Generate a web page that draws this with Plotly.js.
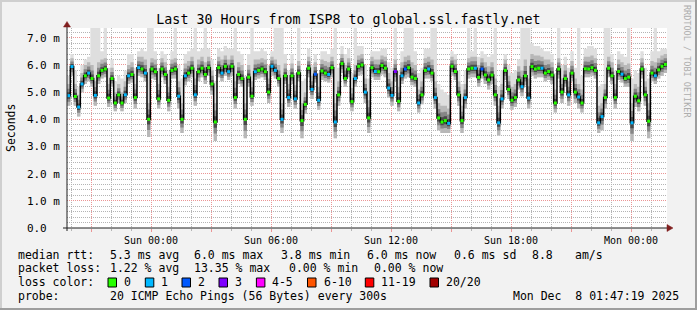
<!DOCTYPE html>
<html><head><meta charset="utf-8">
<script src="https://cdn.plot.ly/plotly-3.0.1.min.js"></script>
<style>html,body{margin:0;padding:0;background:#f2f2f2}#chart{width:697px;height:310px}</style>
</head><body><div id="chart"></div>
<script>
// ---- data ----
const startTime = '2025-12-06T19:48:00Z';
const stepMinutes = 10;
const rangeStart = '2025-12-06 19:48:00';
const rangeEnd = '2025-12-08 01:48:00';

const median = [
 4.87,5.94,4.84,4.45,5.3,5.6,5.7,5.5,4.88,5.6,
 5.8,5.85,4.78,5.5,4.6,4.9,4.6,4.9,5.6,5.65,
 4.8,5.9,5.85,5.7,4.0,5.85,5.75,4.75,5.85,5.65,
 4.7,5.8,5.85,4.85,4.0,5.6,5.7,5.88,4.9,5.75,
 5.88,5.65,5.9,5.3,3.9,5.9,5.7,5.95,5.75,5.95,
 4.8,5.65,5.5,4.0,5.55,4.85,5.75,5.8,5.85,5.75,
 5.0,5.95,5.8,5.5,4.0,5.6,4.8,5.6,4.75,5.7,
 3.95,4.55,5.88,5.1,5.66,4.7,5.78,5.7,5.65,5.9,
 3.9,4.9,6.05,5.5,5.85,4.65,5.5,5.95,6.0,5.0,
 4.05,5.9,5.76,5.75,5.98,5.88,5.15,4.88,5.76,4.66,
 5.6,5.85,5.9,5.55,5.5,4.6,4.9,5.8,5.85,5.7,
 4.8,4.05,3.9,3.95,3.85,5.95,5.76,4.9,3.95,4.8,
 5.85,5.88,5.88,5.54,5.85,5.63,5.45,5.63,4.9,3.87,
 4.75,5.8,5.1,4.7,4.8,5.45,5.2,5.6,4.78,5.94,
 5.85,5.88,5.88,5.7,5.76,5.63,4.6,5.85,5.0,5.5,
 4.9,5.7,5.0,4.82,4.6,5.86,5.85,5.9,5.8,3.87,
 4.1,4.8,5.88,5.6,4.8,5.76,5.66,5.5,5.55,3.87,
 4.85,4.68,5.85,4.9,3.93,5.7,5.6,5.82,5.95,6.02];

const smokeHigh = [
 5.3,6.25,5.3,4.9,5.7,6.0,6.1,6.0,5.4,6.1,
 6.2,6.25,5.3,5.9,5.0,5.3,5.0,5.4,6.0,6.1,
 5.3,6.3,6.3,6.2,4.6,6.25,6.2,5.3,6.25,6.1,
 5.2,6.2,6.25,5.4,4.6,6.05,6.15,6.3,5.5,6.2,
 6.3,6.1,6.3,5.8,4.6,6.3,6.2,6.35,6.2,6.35,
 5.4,6.1,6.0,4.6,6.0,5.4,6.2,6.2,6.25,6.2,
 5.5,6.3,6.2,6.0,4.6,6.05,5.3,6.05,5.25,6.15,
 4.6,5.0,6.3,5.6,6.1,5.2,6.2,6.15,6.1,6.3,
 4.6,5.4,6.4,6.0,6.25,5.15,6.0,6.35,6.4,5.5,
 4.7,6.3,6.2,6.2,6.35,6.3,5.7,5.4,6.2,5.2,
 6.1,6.3,6.35,6.1,6.0,5.1,5.4,6.25,6.3,6.2,
 5.4,4.6,4.5,4.5,4.4,6.3,6.2,5.4,4.5,5.3,
 6.25,6.3,6.3,6.0,6.25,6.1,5.95,6.1,5.5,4.5,
 5.3,6.2,5.6,5.2,5.3,5.95,5.8,6.2,5.5,6.4,
 6.35,6.35,6.3,6.2,6.2,6.1,5.1,6.25,5.5,6.0,
 5.4,6.15,5.5,5.3,5.1,6.3,6.3,6.35,6.25,4.5,
 4.6,5.3,6.3,6.1,5.3,6.2,6.1,6.0,6.05,4.6,
 5.3,5.2,6.25,5.4,4.6,6.15,6.1,6.25,6.35,6.4];

const smokeLow = [
 4.5,5.6,4.5,4.1,5.0,5.3,5.4,5.2,4.5,5.3,
 5.5,5.55,4.45,5.2,4.3,4.6,4.3,4.6,5.3,5.35,
 4.4,5.6,5.55,5.4,3.35,5.5,5.45,4.4,5.55,5.3,
 4.3,5.5,5.5,4.4,3.5,5.25,5.4,5.55,4.5,5.4,
 5.55,5.3,5.6,4.9,3.2,5.55,5.4,5.6,5.45,5.6,
 4.4,5.3,5.2,3.3,5.2,4.5,5.45,5.5,5.55,5.45,
 4.6,5.6,5.5,5.2,3.5,5.3,4.45,5.3,4.4,5.4,
 3.3,4.2,5.55,4.75,5.35,4.35,5.45,5.4,5.35,5.55,
 3.3,4.5,5.7,5.2,5.55,4.3,5.2,5.6,5.65,4.6,
 3.5,5.55,5.45,5.45,5.65,5.55,4.8,4.5,5.4,4.3,
 5.3,5.5,5.55,5.25,5.2,4.25,4.55,5.5,5.5,5.4,
 4.4,3.6,3.5,3.5,3.5,5.6,5.45,4.5,3.5,4.4,
 5.5,5.55,5.55,5.2,5.5,5.3,5.1,5.3,4.5,3.4,
 4.4,5.45,4.75,4.35,4.45,5.1,4.85,5.25,4.4,5.6,
 5.5,5.55,5.55,5.4,5.45,5.3,4.25,5.5,4.6,5.2,
 4.5,5.4,4.6,4.4,4.25,5.55,5.55,5.6,5.5,3.5,
 3.6,4.4,5.55,5.3,4.4,5.45,5.35,5.2,5.2,3.2,
 4.45,4.3,5.5,4.5,3.3,5.4,5.3,5.5,5.6,5.7];

const pingMax = [
 5.6,6.4,5.8,5.2,6.0,6.2,6.3,7.4,7.4,7.4,
 6.5,7.4,5.9,6.2,5.4,5.6,5.5,5.8,6.4,6.4,
 5.9,6.5,6.6,6.5,7.4,7.4,6.5,5.9,6.5,6.4,
 5.8,6.5,7.4,6.0,5.5,6.4,6.5,6.6,7.4,6.5,
 6.6,7.4,6.6,6.2,5.4,6.6,6.5,6.7,6.6,6.6,
 7.4,6.5,6.4,5.6,6.4,7.4,6.5,6.5,6.6,6.5,
 6.0,6.5,7.4,7.4,7.4,6.4,5.8,6.4,5.7,7.4,
 5.4,5.5,6.6,6.0,6.4,5.7,6.5,6.5,6.4,6.6,
 7.4,5.9,6.7,6.4,6.6,5.7,7.4,6.7,6.7,6.0,
 5.5,6.5,6.5,6.5,6.6,6.6,6.1,5.9,7.4,5.8,
 6.5,7.4,7.4,7.4,6.5,5.7,5.9,6.6,6.6,7.4,
 7.4,5.3,5.1,5.0,4.9,6.5,6.4,5.8,5.3,5.8,
 7.4,6.5,7.4,6.3,6.5,6.4,6.3,6.4,7.4,5.2,
 5.8,6.4,6.0,5.7,5.8,6.2,7.4,7.4,7.4,6.8,
 6.7,6.7,6.6,6.5,6.5,6.4,5.7,7.4,6.0,6.3,
 5.9,6.5,5.9,7.4,5.6,6.6,6.7,6.7,6.6,5.2,
 5.3,7.4,7.4,6.4,5.8,6.5,6.4,6.3,7.4,5.5,
 5.8,5.7,6.5,5.9,5.5,6.5,7.4,6.5,6.6,6.6];

const lostPings = [
 1,1,0,1,1,0,1,0,1,0,
 0,0,0,0,0,0,0,1,1,0,
 0,1,0,1,0,0,0,0,0,0,
 0,0,0,1,0,1,0,0,1,0,
 0,0,0,0,0,0,1,0,1,0,
 0,0,0,0,0,0,1,0,0,0,
 0,1,1,0,1,0,1,0,1,0,
 0,0,0,1,2,1,0,0,1,0,
 1,0,0,0,0,0,1,0,0,1,
 0,0,1,0,0,0,1,1,3,0,
 1,2,0,0,0,1,0,0,1,0,
 1,0,0,0,1,0,0,0,0,1,
 0,0,1,0,2,0,0,0,0,1,
 1,0,0,0,0,0,1,0,1,0,
 0,0,1,0,0,0,0,0,0,0,
 1,0,0,1,0,0,0,0,0,1,
 1,0,0,0,0,0,1,0,0,1,
 0,0,0,0,0,0,1,0,0,0];

const xTickVals = ['2025-12-06 21:00','2025-12-07 00:00','2025-12-07 03:00','2025-12-07 06:00','2025-12-07 09:00',
                   '2025-12-07 12:00','2025-12-07 15:00','2025-12-07 18:00','2025-12-07 21:00','2025-12-08 00:00'];
const xTickText = ['','Sun 00:00','','Sun 06:00','','Sun 12:00','','Sun 18:00','','Mon 00:00'];
const yTickVals = [0,1,2,3,4,5,6,7];
const yTickText = ['0.0  ','1.0 m','2.0 m','3.0 m','4.0 m','5.0 m','6.0 m','7.0 m'];

const lossLabels = ['0','1','2','3','4-5','6-10','11-19','20/20'];
const lossColors = ['#26ff00','#00b8ff','#0059ff','#7e00ff','#ff00ff','#ff5500','#ff0000','#a10000'];
const rttStats = ['5.3 ms avg','6.0 ms max','3.8 ms min','6.0 ms now','0.6 ms sd','8.8','am/s'];
const lossStats = ['1.22 % avg','13.35 % max','0.00 % min','0.00 % now'];
const probeText = '20 ICMP Echo Pings (56 Bytes) every 300s';
const dateText = 'Mon Dec  8 01:47:19 2025';

// ---- geometry helpers ----
const W=697,H=310,L=67,R=30,T=28,B=82;
const PW=W-L-R, PH=H-T-B;
const px = p => (p-L)/PW;
const py = p => (H-B-p)/PH;
const nb = s => s.replace(/ /g,'\u00a0');
const MONO = 'DejaVu Sans Mono';

const t0 = Date.parse(startTime);
const fmt = ms => new Date(ms).toISOString().slice(0,19).replace('T',' ');
const tx = median.map((_,i)=>fmt(t0+i*stepMinutes*60000)).concat([fmt(t0+median.length*stepMinutes*60000)]);
const tMid = median.map((_,i)=>fmt(t0+(i+0.5)*stepMinutes*60000));
const ext = a => a.concat([a[a.length-1]]);

const traces = [];
function band(lo, hi, color){
  traces.push({x:tx, y:ext(lo), mode:'lines', line:{width:0, shape:'hv'}, hoverinfo:'skip', showlegend:false});
  traces.push({x:tx, y:ext(hi), mode:'lines', line:{width:0, shape:'hv'}, fill:'tonexty', fillcolor:color, hoverinfo:'skip', showlegend:false});
}
band(smokeLow, pingMax, '#dedede');
band(smokeLow, smokeHigh, '#b8b8b8');
band(median.map((m,i)=>m-0.6*(m-smokeLow[i])), median.map((m,i)=>m+0.6*(smokeHigh[i]-m)), '#868686');
band(median.map((m,i)=>m-0.3*(m-smokeLow[i])), median.map((m,i)=>m+0.3*(smokeHigh[i]-m)), '#4a4a4a');
traces.push({x:tx, y:ext(median), mode:'lines', line:{color:'#000', width:1.5, shape:'hv'}, hoverinfo:'skip', showlegend:false});
traces.push({x:tMid, y:median, mode:'markers', marker:{symbol:'square', size:3, color:lostPings.map(l=>lossColors[l]), line:{width:0}}, hoverinfo:'skip', showlegend:false});

// ---- shapes ----
const shapes = [
  {type:'rect', xref:'paper', yref:'paper', x0:px(0), x1:px(W), y0:py(2), y1:py(0), fillcolor:'#cfcfcf', line:{width:0}},
  {type:'rect', xref:'paper', yref:'paper', x0:px(0), x1:px(2), y0:py(H), y1:py(0), fillcolor:'#cfcfcf', line:{width:0}},
  {type:'rect', xref:'paper', yref:'paper', x0:px(0), x1:px(W), y0:py(H), y1:py(H-2), fillcolor:'#9e9e9e', line:{width:0}},
  {type:'rect', xref:'paper', yref:'paper', x0:px(W-2), x1:px(W), y0:py(H), y1:py(0), fillcolor:'#9e9e9e', line:{width:0}},
  {type:'line', xref:'paper', yref:'paper', x0:px(63), x1:px(668), y0:py(228), y1:py(228), line:{color:'#1f1f1f', width:1}, layer:'above'},
  {type:'line', xref:'paper', yref:'paper', x0:px(67), x1:px(67), y0:py(231), y1:py(26), line:{color:'#1f1f1f', width:1}, layer:'above'},
  {type:'path', xref:'paper', yref:'paper', path:`M${px(667)},${py(224.5)} L${px(673)},${py(228)} L${px(667)},${py(231.5)} Z`, fillcolor:'#801f1f', line:{color:'#801f1f', width:0.5}, layer:'above'},
  {type:'path', xref:'paper', yref:'paper', path:`M${px(63.5)},${py(27)} L${px(67)},${py(21.5)} L${px(70.5)},${py(27)} Z`, fillcolor:'#801f1f', line:{color:'#801f1f', width:0.5}, layer:'above'}
];

// ---- annotations ----
const ann = [];
const txt = (text, xp, yp, anchor, size, color) => ann.push({text:nb(text), xref:'paper', yref:'paper', x:px(xp), y:py(yp),
  xanchor:anchor||'left', yanchor:'middle', showarrow:false, font:{family:MONO, size:size||11.5, color:color||'#000'}});
const rttX = [108,192.4,279,365.3,451.6,530.2,573.3];
txt('median rtt:',16,254.7);
rttStats.forEach((s,i)=>txt(s, rttX[i], 254.7));
const lossX = [108,192.4,286.7,372.4];
txt('packet loss:',16,268.3);
lossStats.forEach((s,i)=>txt(s, lossX[i], 268.3));
txt('loss color:',16,282.3);
const boxX = [108,145.3,182,219,256.4,307.5,365.3,430];
lossLabels.forEach((s,i)=>{
  shapes.push({type:'rect', xref:'paper', yref:'paper', x0:px(boxX[i]), x1:px(boxX[i]+8.5), y0:py(287), y1:py(278), fillcolor:lossColors[i], line:{color:'#000', width:1}});
  txt(s, boxX[i]+14, 282.3);
});
txt('probe:',16,296);
txt(probeText,108,296);
txt(dateText,681,296,'right');
ann.push({text:'Seconds', xref:'paper', yref:'paper', x:px(11), y:py(128), textangle:-90, xanchor:'center', yanchor:'middle', showarrow:false, font:{family:MONO, size:11.5, color:'#000'}});
ann.push({text:nb('RRDTOOL / TOBI OETIKER'), xref:'paper', yref:'paper', x:px(687), y:py(61), textangle:90, xanchor:'center', yanchor:'middle', showarrow:false, font:{family:MONO, size:8.5, color:'#adadad'}});

const majorGrid = 'rgb(235,149,149)';
const minorGrid = '#b4b4b4';
const layout = {
  width:W, height:H, autosize:false,
  margin:{l:L, r:R, t:T, b:B, pad:0},
  paper_bgcolor:'#f2f2f2', plot_bgcolor:'#ffffff',
  showlegend:false,
  title:{text:'Last 30 Hours from ISP8 to global.ssl.fastly.net', font:{family:MONO, size:13.3, color:'#000'},
         x:0.5, xref:'container', xanchor:'center', y:1-19/H, yref:'container', yanchor:'middle'},
  xaxis:{type:'date', range:[rangeStart, rangeEnd], tickmode:'array', tickvals:xTickVals, ticktext:xTickText,
         showgrid:true, gridcolor:majorGrid, griddash:'1px,1px', gridwidth:1,
         ticks:'outside', ticklen:3, tickcolor:majorGrid, showline:false, zeroline:false,
         tickfont:{family:MONO, size:10, color:'#000'}, fixedrange:true,
         minor:{tickmode:'linear', tick0:'2025-12-06 00:00', dtick:3600000, showgrid:true, gridcolor:minorGrid, griddash:'1px,1px', gridwidth:1, ticks:'outside', ticklen:2, tickcolor:minorGrid}},
  yaxis:{range:[0,7.36], tickmode:'array', tickvals:yTickVals, ticktext:yTickText.map(nb),
         showgrid:true, gridcolor:majorGrid, griddash:'1px,1px', gridwidth:1, zeroline:false, showline:false,
         ticks:'', ticklabelstandoff:6, tickfont:{family:MONO, size:11, color:'#000'}, fixedrange:true,
         minor:{tickmode:'linear', tick0:0, dtick:0.2, showgrid:true, gridcolor:minorGrid, griddash:'1px,1px', gridwidth:1}},
  shapes, annotations:ann
};
Plotly.newPlot('chart', traces, layout, {staticPlot:true, displayModeBar:false});
</script></body></html>
